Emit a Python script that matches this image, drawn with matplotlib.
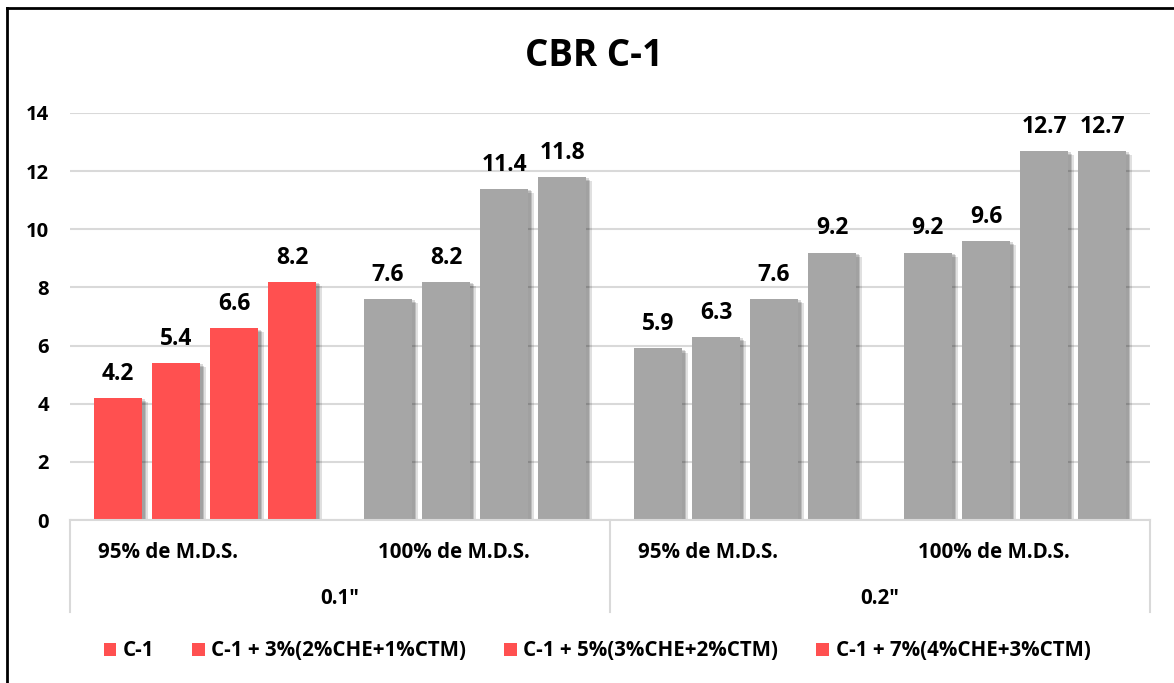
import matplotlib
matplotlib.use("Agg")
import matplotlib.pyplot as plt
import matplotlib.patheffects as pe
from matplotlib.lines import Line2D
from matplotlib.transforms import blended_transform_factory
import numpy as np

plt.rcParams['font.family'] = ['Open Sans', 'DejaVu Sans']
plt.rcParams['font.weight'] = 'bold'

title = "CBR C-1"
inner_labels = ['95% de M.D.S.', '100% de M.D.S.', '95% de M.D.S.', '100% de M.D.S.']
outer_labels = ['0.1"', '0.2"']
series_names = ['C-1', 'C-1 + 3%(2%CHE+1%CTM)', 'C-1 + 5%(3%CHE+2%CTM)', 'C-1 + 7%(4%CHE+3%CTM)']
s_c1 = [4.2, 7.6, 5.9, 9.2]
s_3 = [5.4, 8.2, 6.3, 9.6]
s_5 = [6.6, 11.4, 7.6, 12.7]
s_7 = [8.2, 11.8, 9.2, 12.7]
series_values = [s_c1, s_3, s_5, s_7]
yticks = [0, 2, 4, 6, 8, 10, 12, 14]

RED = '#FF5050'
GRAY = '#A6A6A6'
point_colors = [RED, GRAY, GRAY, GRAY]
GRID = '#D9D9D9'

W, H = 1174, 683
fig = plt.figure(figsize=(W / 100, H / 100), dpi=100)
fig.patch.set_facecolor('white')

left, right = 70 / W, 1150 / W
bottom, top = 1 - 520 / H, 1 - 113 / H
ax = fig.add_axes([left, bottom, right - left, top - bottom])

n = len(inner_labels)
x = np.arange(n)
step = 0.215
bw = 0.178

shadow = [pe.SimplePatchShadow(offset=(4, -3), shadow_rgbFace='black', alpha=0.12),
          pe.SimplePatchShadow(offset=(3, -2), shadow_rgbFace='black', alpha=0.15),
          pe.SimplePatchShadow(offset=(2, -1), shadow_rgbFace='black', alpha=0.15),
          pe.Normal()]

for i, (name, vals) in enumerate(zip(series_names, series_values)):
    pos = x + (i - 1.5) * step
    bars = ax.bar(pos, vals, width=bw, color=point_colors, label=name, zorder=3)
    for b in bars:
        b.set_path_effects(shadow)
    for p, v in zip(pos, vals):
        ax.annotate(f"{v:.1f}", (p, v), xytext=(0, 13), textcoords='offset points',
                    ha='center', va='baseline', fontsize=16.5, fontweight='bold', color='black')

ax.set_xlim(-0.5, n - 0.5)
ax.set_ylim(0, 14)
ax.set_yticks(yticks)
ax.set_yticklabels([str(t) for t in yticks], fontsize=14.5, fontweight='bold')
ax.tick_params(axis='y', length=0, pad=15)
ax.tick_params(axis='x', length=0, labelbottom=False)
ax.grid(axis='y', color=GRID, linewidth=1.5, zorder=0)
for s in ['left', 'right', 'top']:
    ax.spines[s].set_visible(False)
ax.spines['bottom'].set_color(GRID)
ax.spines['bottom'].set_linewidth(1.5)
ax.spines['bottom'].set_zorder(4)

trans = blended_transform_factory(ax.transData, ax.transAxes)
for xs in [-0.5, 1.5, n - 0.5]:
    ax.add_line(Line2D([xs, xs], [0, -0.226], transform=trans, color=GRID,
                       linewidth=1.5, clip_on=False))
label_shift = [-27, -15, -27, -15]
for xi, lab, dx in zip(x, inner_labels, label_shift):
    ax.annotate(lab, (xi, -0.079), xycoords=trans, xytext=(dx, 0), textcoords='offset points',
                ha='center', va='center', fontsize=14.8, fontweight='bold', annotation_clip=False)
for k, lab in enumerate(outer_labels):
    ax.text(2 * k + 0.5, -0.192, lab, transform=trans, ha='center', va='center',
            fontsize=14.8, fontweight='bold')

fig.text(594 / W, 1 - 56 / H, title, ha='center', va='center', fontsize=26.5, fontweight='bold')

handles, labels = ax.get_legend_handles_labels()
leg = fig.legend(handles, labels, loc='center', bbox_to_anchor=(597 / W, 1 - 651 / H), ncol=4,
                 frameon=False, prop={'size': 14.8, 'weight': 'bold'}, handlelength=0.63,
                 handleheight=0.63, handletextpad=0.3, columnspacing=1.85)
for h in leg.legend_handles:
    h.set_path_effects([])

# outer chart border (left and top)
fig.add_artist(Line2D([7 / W, 7 / W], [0, 1 - 8 / H], transform=fig.transFigure, color='black', linewidth=2))
fig.add_artist(Line2D([7 / W, 1], [1 - 8 / H, 1 - 8 / H], transform=fig.transFigure, color='black', linewidth=2))

fig.savefig('out.png', dpi=100)
